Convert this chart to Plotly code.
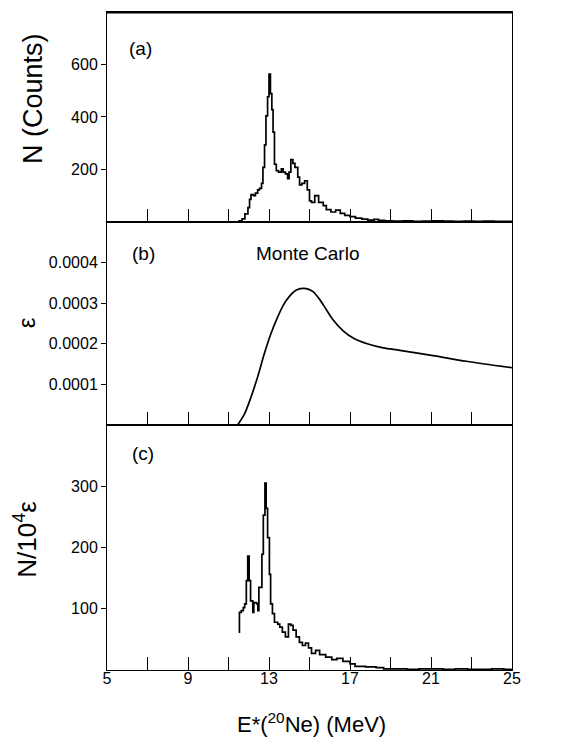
import plotly.graph_objects as go

# panel (a): raw counts
E_a = [11.30, 11.52, 11.67, 11.81, 11.96, 12.04, 12.11, 12.23, 12.33, 12.44,
       12.53, 12.63, 12.70, 12.78, 12.85, 12.93, 13.00, 13.07, 13.14, 13.20,
       13.27, 13.36, 13.47, 13.61, 13.70, 13.81, 13.92, 13.99, 14.08, 14.18,
       14.28, 14.42, 14.51, 14.62, 14.76, 14.89, 15.00, 15.10, 15.26, 15.45,
       15.68, 15.83, 16.06, 16.29, 16.52, 16.74, 17.00, 17.27, 17.58, 17.88,
       18.18, 18.41, 18.71, 19.10, 19.60, 20.10, 20.60, 21.10, 21.60, 22.10,
       22.60, 23.10, 23.60, 24.10, 24.60, 25.00]
N_a = [0, 4, 12, 31, 55, 86, 104, 100, 110, 122,
       128, 147, 208, 294, 404, 477, 563, 489, 428, 342,
       220, 196, 190, 202, 190, 183, 165, 190, 238, 223,
       208, 171, 141, 147, 157, 122, 80, 75, 100, 75,
       62, 47, 38, 45, 33, 25, 20, 15, 11, 7,
       10, 6, 4, 3, 4, 2, 3, 4, 3, 2,
       3, 2, 3, 2, 2, 2]

# panel (b): Monte Carlo efficiency
E_b = [11.45, 11.78, 12.10, 12.43, 12.76, 13.08, 13.41, 13.73, 14.06, 14.38,
       14.84, 15.16, 15.49, 15.82, 16.15, 16.66, 17.20, 17.85, 18.64, 19.46,
       21.10, 22.75, 25.00]
eps_b = [0, 2.6e-5, 6.7e-5, 1.17e-4, 1.74e-4, 2.23e-4, 2.64e-4, 2.97e-4, 3.20e-4, 3.33e-4,
         3.36e-4, 3.29e-4, 3.10e-4, 2.85e-4, 2.60e-4, 2.32e-4, 2.13e-4, 2.00e-4, 1.90e-4, 1.84e-4,
         1.71e-4, 1.57e-4, 1.41e-4]

# panel (c): corrected spectrum N/(10^4 eps)
E_c = [11.50, 11.54, 11.63, 11.73, 11.80, 11.88, 11.95, 12.02, 12.09, 12.20,
       12.25, 12.39, 12.45, 12.50, 12.58, 12.65, 12.72, 12.80, 12.86, 12.93,
       13.02, 13.08, 13.17, 13.27, 13.43, 13.53, 13.66, 13.81, 13.96, 14.08,
       14.19, 14.34, 14.50, 14.65, 14.80, 14.95, 15.10, 15.30, 15.50, 15.80,
       16.10, 16.35, 16.65, 17.00, 17.25, 17.77, 18.29, 18.66, 19.2, 19.8,
       20.4, 21.0, 21.6, 22.2, 22.8, 23.4, 24.0, 24.6, 25.0]
R_c = [62, 94, 97, 102, 108, 146, 186, 146, 113, 94,
       110, 108, 97, 135, 135, 189, 253, 305, 264, 216,
       156, 108, 92, 78, 75, 70, 62, 54, 75, 73,
       65, 54, 45, 40, 44, 36, 27, 32, 25, 21,
       17, 19, 14, 10, 6, 5, 4, 2, 2, 1,
       2, 2, 1, 2, 1, 1, 2, 1, 1]

x_major = [5, 9, 13, 17, 21, 25]
x_minor = [7, 11, 15, 19, 23]
ya_ticks = [200, 400, 600]
yb_ticks = [0.0001, 0.0002, 0.0003, 0.0004]
yb_labels = ["0.0001", "0.0002", "0.0003", "0.0004"]
yc_ticks = [100, 200, 300]

FONT = "Liberation Sans, Arial, sans-serif"
line = dict(color="black", width=1.7)

fig = go.Figure()
fig.add_trace(go.Scatter(x=E_a, y=N_a, mode="lines", line=dict(line, shape="hv"),
                         xaxis="x", yaxis="y", showlegend=False))
fig.add_trace(go.Scatter(x=E_b, y=eps_b, mode="lines", line=dict(line, shape="spline", smoothing=0.8),
                         xaxis="x2", yaxis="y2", showlegend=False))
fig.add_trace(go.Scatter(x=E_c, y=R_c, mode="lines", line=dict(line, shape="hv"),
                         xaxis="x3", yaxis="y3", showlegend=False))

# stacked panels, no gaps (paper fractions)
dom_c = [0, 0.3723]
dom_b = [0.3723, 0.6809]
dom_a = [0.6809, 1]

xcommon = dict(range=[5, 25], tickvals=x_major, ticks="inside", ticklen=13, tickwidth=1,
               tickcolor="black", minor=dict(tickvals=x_minor, ticks="inside", ticklen=13,
                                             tickwidth=1, tickcolor="black"),
               showline=True, linecolor="black", linewidth=1, mirror=True,
               showgrid=False, zeroline=False,
               tickfont=dict(family=FONT, size=16, color="black"))
ycommon = dict(ticks="outside", ticklen=5, tickwidth=1, tickcolor="black", showline=True,
               linecolor="black", linewidth=1, mirror=True, showgrid=False, zeroline=False,
               tickfont=dict(family=FONT, size=16, color="black"))
yright = dict(side="right", ticks="inside", ticklen=10, tickwidth=1, tickcolor="black",
              showticklabels=False, showline=False, showgrid=False, zeroline=False)

fig.update_layout(
    width=581, height=744,
    margin=dict(l=99, r=77, t=4, b=82),
    paper_bgcolor="white", plot_bgcolor="white",
    font=dict(family=FONT, color="black"),
    xaxis=dict(xcommon, anchor="y", showticklabels=False, matches="x3"),
    xaxis2=dict(xcommon, anchor="y2", showticklabels=False, matches="x3"),
    xaxis3=dict(xcommon, anchor="y3", ticklabelstandoff=-6),
    yaxis=dict(ycommon, domain=dom_a, anchor="x", range=[0, 800], tickvals=ya_ticks),
    yaxis2=dict(ycommon, domain=dom_b, anchor="x2", range=[0, 0.0005], tickvals=yb_ticks,
                ticktext=yb_labels),
    yaxis3=dict(ycommon, domain=dom_c, anchor="x3", range=[0, 400], tickvals=yc_ticks),
    yaxis4=dict(yright, overlaying="y", anchor="x", range=[0, 800], tickvals=ya_ticks),
    yaxis5=dict(yright, overlaying="y2", anchor="x2", range=[0, 0.0005], tickvals=yb_ticks),
    yaxis6=dict(yright, overlaying="y3", anchor="x3", range=[0, 400], tickvals=yc_ticks),
)

# top frame edge of panel (a)
fig.add_shape(type="line", xref="paper", yref="paper", x0=0, x1=1, y0=0.999, y1=0.999,
              line=dict(color="black", width=1.6))

# panel tags and texts
tag_font = dict(family=FONT, size=19, color="black")
fig.add_annotation(x=6.66, y=662, xref="x", yref="y", text="(a)", showarrow=False, font=tag_font)
fig.add_annotation(x=6.8, y=0.000422, xref="x2", yref="y2", text="(b)", showarrow=False, font=tag_font)
fig.add_annotation(x=14.93, y=0.000422, xref="x2", yref="y2", text="Monte Carlo", showarrow=False,
                   font=dict(family=FONT, size=19, color="black"))
fig.add_annotation(x=6.8, y=353, xref="x3", yref="y3", text="(c)", showarrow=False, font=tag_font)

# axis titles
title_kw = dict(xref="paper", yref="paper", showarrow=False, xanchor="center", yanchor="middle")
fig.add_annotation(x=-0.183, y=0.869, text="N (Counts)", textangle=-90,
                   font=dict(family=FONT, size=27, color="black"), **title_kw)
fig.add_annotation(x=-0.2, y=0.527, text="ε", textangle=-90,
                   font=dict(family=FONT, size=24, color="black"), **title_kw)
fig.add_annotation(x=-0.2, y=0.198, text="N/10<sup>4</sup>ε", textangle=-90,
                   font=dict(family=FONT, size=26, color="black"), **title_kw)
fig.add_annotation(x=0.506, y=-0.080, text="E*(<sup>20</sup>Ne) (MeV)",
                   font=dict(family=FONT, size=22, color="black"), **title_kw)

fig.write_html("out.html")
